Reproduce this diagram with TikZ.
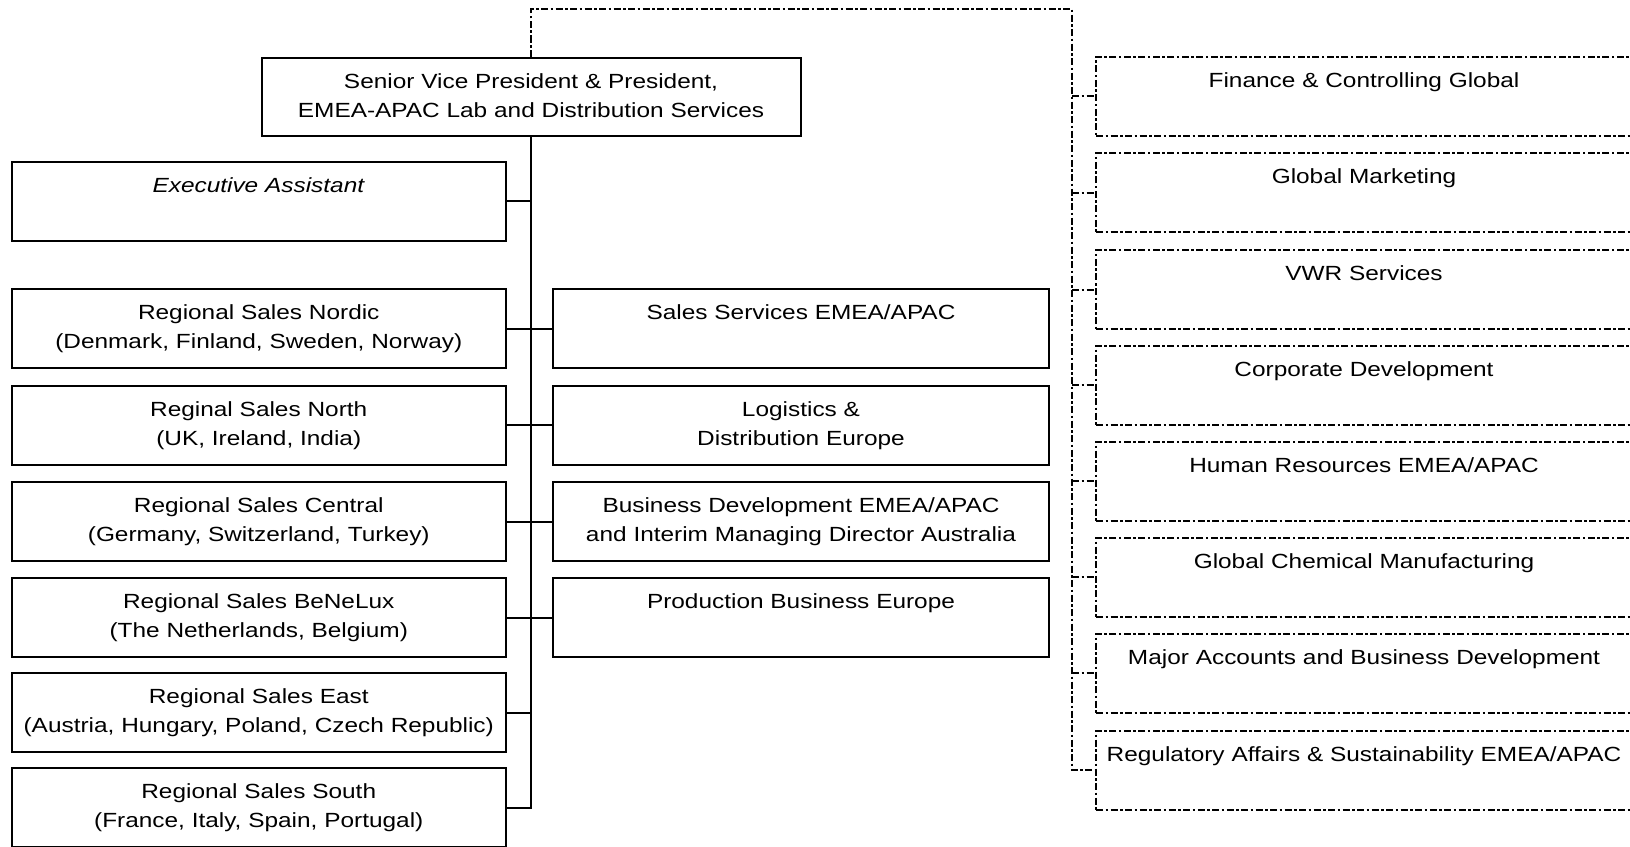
\documentclass[tikz,border=0pt]{standalone}
\usepackage{fontspec}
\setmainfont{Liberation Sans}[FakeStretch=1.19]
\newcommand\twol[2]{\rule{0pt}{20bp}#1\\#2\rule[-9bp]{0pt}{9bp}}
\begin{document}
\begin{tikzpicture}[x=1bp,y=-1bp,
  dashpat/.style={dash pattern=on 7bp off 2.5bp on 2.5bp off 2.5bp},
  box/.style={draw=black, line width=2bp, inner xsep=0pt, inner ysep=0pt,
    minimum height=79bp, align=center, font=\fontsize{20.5bp}{29bp}\selectfont},
  lbox/.style={box, text width=494bp},
  mbox/.style={box, text width=496bp},
  rbox/.style={box, text width=536bp, dashpat},
  link/.style={draw=black, line width=2bp},
  dlink/.style={link, dashpat}]
\useasboundingbox (0,0) rectangle (1630,846);
\clip (0,0) rectangle (1630,846);
\fill[white] (0,0) rectangle (1630,846);

% top
\node[box, text width=539bp, minimum height=78bp] (svp) at (531,97)
  {\twol{Senior Vice President \& President,}{EMEA-APAC Lab and Distribution Services}};
\node[lbox] (ea) at (258.75,201) {\twol{\textit{Executive Assistant}}{}};

% left column
\node[lbox] (nordic)  at (258.75,328.5) {\twol{Regional Sales Nordic}{(Denmark, Finland, Sweden, Norway)}};
\node[lbox] (north)   at (258.75,425)   {\twol{Reginal Sales North}{(UK, Ireland, India)}};
\node[lbox] (central) at (258.75,521.5) {\twol{Regional Sales Central}{(Germany, Switzerland, Turkey)}};
\node[lbox] (benelux) at (258.75,617.5) {\twol{Regional Sales BeNeLux}{(The Netherlands, Belgium)}};
\node[lbox] (east)    at (258.75,712.5) {\twol{Regional Sales East}{(Austria, Hungary, Poland, Czech Republic)}};
\node[lbox] (south)   at (258.75,807.5) {\twol{Regional Sales South}{(France, Italy, Spain, Portugal)}};

% middle column
\node[mbox] (sales) at (801,328.5) {\twol{Sales Services EMEA/APAC}{}};
\node[mbox] (logi)  at (801,425)   {\twol{Logistics \&}{Distribution Europe}};
\node[mbox] (busdev) at (801,521.5) {\twol{Business Development EMEA/APAC}{and Interim Managing Director Australia}};
\node[mbox] (prod)  at (801,617.5) {\twol{Production Business Europe}{}};

% right column (dashed)
\node[rbox] (r1) at (1364,96)    {\twol{Finance \& Controlling Global}{}};
\node[rbox] (r2) at (1364,192.5) {\twol{Global Marketing}{}};
\node[rbox] (r3) at (1364,289.5) {\twol{VWR Services}{}};
\node[rbox] (r4) at (1364,385)   {\twol{Corporate Development}{}};
\node[rbox] (r5) at (1364,481)   {\twol{Human Resources EMEA/APAC}{}};
\node[rbox] (r6) at (1364,577)   {\twol{Global Chemical Manufacturing}{}};
\node[rbox] (r7) at (1364,673)   {\twol{Major Accounts and Business Development}{}};
\node[rbox] (r8) at (1364,770)   {\twol{Regulatory Affairs \& Sustainability EMEA/APAC}{}};

% solid connectors
\draw[link] (svp.south) |- (south.east);
\draw[link] (ea.east) -- (ea.east -| svp.south);
\draw[link] (nordic.east) -- (sales.west);
\draw[link] (north.east) -- (logi.west);
\draw[link] (central.east) -- (busdev.west);
\draw[link] (benelux.east) -- (prod.west);
\draw[link] (east.east) -- (east.east -| svp.south);

% dashed connectors
\coordinate (bt) at (1072,9);
\draw[dlink] (svp.north) |- (bt) |- (r8.west);
\foreach \r in {r1,r2,r3,r4,r5,r6,r7}
  \draw[dlink] (bt |- \r.west) -- (\r.west);
\end{tikzpicture}
\end{document}
